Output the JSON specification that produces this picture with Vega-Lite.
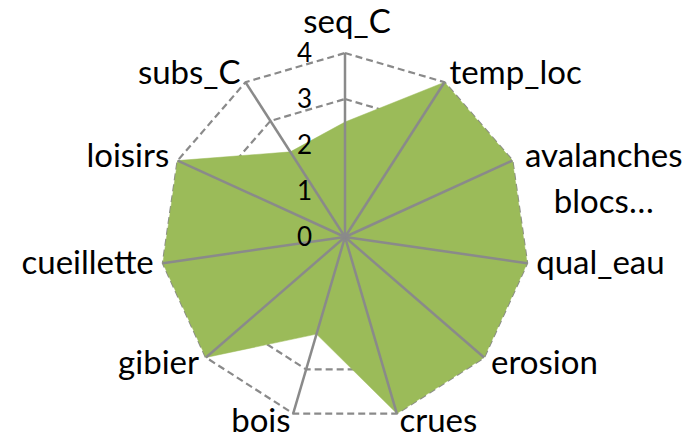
{
  "$schema": "https://vega.github.io/schema/vega-lite/v6.json",
  "width": 368,
  "height": 368,
  "autosize": "none",
  "padding": {"left": 161, "top": 53, "right": 162, "bottom": 19},
  "background": "white",
  "config": {"view": {"stroke": null}, "font": "Lato"},
  "datasets": {
    "axes": [
      {"axe": "seq_C", "idx": 0, "valeur": 2.5},
      {"axe": "temp_loc", "idx": 1, "valeur": 4},
      {"axe": "avalanches blocs…", "idx": 2, "valeur": 4},
      {"axe": "qual_eau", "idx": 3, "valeur": 4},
      {"axe": "erosion", "idx": 4, "valeur": 4},
      {"axe": "crues", "idx": 5, "valeur": 4},
      {"axe": "bois", "idx": 6, "valeur": 2.2},
      {"axe": "gibier", "idx": 7, "valeur": 4},
      {"axe": "cueillette", "idx": 8, "valeur": 4},
      {"axe": "loisirs", "idx": 9, "valeur": 4},
      {"axe": "subs_C", "idx": 10, "valeur": 2.2}
    ],
    "grille": [
      {"niveau": 1, "idx": 0}, {"niveau": 1, "idx": 1}, {"niveau": 1, "idx": 2}, {"niveau": 1, "idx": 3}, {"niveau": 1, "idx": 4}, {"niveau": 1, "idx": 5}, {"niveau": 1, "idx": 6}, {"niveau": 1, "idx": 7}, {"niveau": 1, "idx": 8}, {"niveau": 1, "idx": 9}, {"niveau": 1, "idx": 10},
      {"niveau": 2, "idx": 0}, {"niveau": 2, "idx": 1}, {"niveau": 2, "idx": 2}, {"niveau": 2, "idx": 3}, {"niveau": 2, "idx": 4}, {"niveau": 2, "idx": 5}, {"niveau": 2, "idx": 6}, {"niveau": 2, "idx": 7}, {"niveau": 2, "idx": 8}, {"niveau": 2, "idx": 9}, {"niveau": 2, "idx": 10},
      {"niveau": 3, "idx": 0}, {"niveau": 3, "idx": 1}, {"niveau": 3, "idx": 2}, {"niveau": 3, "idx": 3}, {"niveau": 3, "idx": 4}, {"niveau": 3, "idx": 5}, {"niveau": 3, "idx": 6}, {"niveau": 3, "idx": 7}, {"niveau": 3, "idx": 8}, {"niveau": 3, "idx": 9}, {"niveau": 3, "idx": 10},
      {"niveau": 4, "idx": 0}, {"niveau": 4, "idx": 1}, {"niveau": 4, "idx": 2}, {"niveau": 4, "idx": 3}, {"niveau": 4, "idx": 4}, {"niveau": 4, "idx": 5}, {"niveau": 4, "idx": 6}, {"niveau": 4, "idx": 7}, {"niveau": 4, "idx": 8}, {"niveau": 4, "idx": 9}, {"niveau": 4, "idx": 10}
    ],
    "graduations": [
      {"tick": 0}, {"tick": 1}, {"tick": 2}, {"tick": 3}, {"tick": 4}
    ]
  },
  "layer": [
    {
      "data": {"name": "grille"},
      "transform": [
        {"calculate": "datum.idx * 2 * PI / 11", "as": "ang"},
        {"calculate": "datum.niveau * sin(datum.ang)", "as": "px"},
        {"calculate": "datum.niveau * cos(datum.ang)", "as": "py"}
      ],
      "mark": {"type": "line", "interpolate": "linear-closed", "color": "#8a8a8a", "strokeWidth": 2.2, "strokeDash": [7, 4]},
      "encoding": {
        "x": {"field": "px", "type": "quantitative", "scale": {"domain": [-4, 4], "nice": false, "zero": false}, "axis": null},
        "y": {"field": "py", "type": "quantitative", "scale": {"domain": [-4, 4], "nice": false, "zero": false}, "axis": null},
        "detail": {"field": "niveau", "type": "nominal"},
        "order": {"field": "idx", "type": "quantitative"}
      }
    },
    {
      "data": {"name": "axes"},
      "transform": [
        {"calculate": "datum.idx * 2 * PI / 11", "as": "ang"},
        {"calculate": "datum.valeur * sin(datum.ang)", "as": "px"},
        {"calculate": "datum.valeur * cos(datum.ang)", "as": "py"}
      ],
      "mark": {"type": "line", "interpolate": "linear-closed", "fill": "#9BBB59", "color": "#9BBB59", "strokeWidth": 0.5},
      "encoding": {
        "x": {"field": "px", "type": "quantitative", "axis": null},
        "y": {"field": "py", "type": "quantitative", "axis": null},
        "order": {"field": "idx", "type": "quantitative"}
      }
    },
    {
      "data": {"name": "axes"},
      "transform": [
        {"calculate": "datum.idx * 2 * PI / 11", "as": "ang"},
        {"calculate": "4 * sin(datum.ang)", "as": "px"},
        {"calculate": "4 * cos(datum.ang)", "as": "py"},
        {"calculate": "0", "as": "zero"}
      ],
      "mark": {"type": "rule", "color": "#8a8a8a", "strokeWidth": 2.5},
      "encoding": {
        "x": {"field": "px", "type": "quantitative", "axis": null},
        "y": {"field": "py", "type": "quantitative", "axis": null},
        "x2": {"field": "zero"},
        "y2": {"field": "zero"}
      }
    },
    {
      "data": {"name": "graduations"},
      "transform": [{"calculate": "0", "as": "zero"}],
      "mark": {"type": "text", "align": "right", "baseline": "middle", "dx": -33, "dy": 1, "fontSize": 26, "color": "black"},
      "encoding": {
        "x": {"field": "zero", "type": "quantitative", "axis": null},
        "y": {"field": "tick", "type": "quantitative", "axis": null},
        "text": {"field": "tick", "type": "quantitative"}
      }
    },
    {
      "data": {"name": "axes"},
      "transform": [
        {"filter": "datum.idx == 0"},
        {"calculate": "datum.idx * 2 * PI / 11", "as": "ang"},
        {"calculate": "4.2 * sin(datum.ang)", "as": "lx"},
        {"calculate": "4.2 * cos(datum.ang)", "as": "ly"}
      ],
      "mark": {"type": "text", "align": "center", "baseline": "alphabetic", "dx": 2, "dy": -11, "fontSize": 33, "color": "black"},
      "encoding": {
        "x": {"field": "lx", "type": "quantitative", "axis": null},
        "y": {"field": "ly", "type": "quantitative", "axis": null},
        "text": {"field": "axe", "type": "nominal"}
      }
    },
    {
      "data": {"name": "axes"},
      "transform": [
        {"filter": "datum.idx == 1 || datum.idx == 3 || datum.idx == 4 || datum.idx == 5"},
        {"calculate": "datum.idx * 2 * PI / 11", "as": "ang"},
        {"calculate": "4.2 * sin(datum.ang)", "as": "lx"},
        {"calculate": "4.2 * cos(datum.ang)", "as": "ly"}
      ],
      "mark": {"type": "text", "align": "left", "baseline": "middle", "fontSize": 33, "color": "black"},
      "encoding": {
        "x": {"field": "lx", "type": "quantitative", "axis": null},
        "y": {"field": "ly", "type": "quantitative", "axis": null},
        "text": {"field": "axe", "type": "nominal"}
      }
    },
    {
      "data": {"name": "axes"},
      "transform": [
        {"filter": "datum.idx == 2"},
        {"calculate": "datum.idx * 2 * PI / 11", "as": "ang"},
        {"calculate": "4.2 * sin(datum.ang)", "as": "lx"},
        {"calculate": "4.2 * cos(datum.ang)", "as": "ly"}
      ],
      "mark": {"type": "text", "align": "center", "baseline": "middle", "lineBreak": " ", "lineHeight": 46, "dx": 83, "fontSize": 33, "color": "black"},
      "encoding": {
        "x": {"field": "lx", "type": "quantitative", "axis": null},
        "y": {"field": "ly", "type": "quantitative", "axis": null},
        "text": {"field": "axe", "type": "nominal"}
      }
    },
    {
      "data": {"name": "axes"},
      "transform": [
        {"filter": "datum.idx >= 6"},
        {"calculate": "datum.idx * 2 * PI / 11", "as": "ang"},
        {"calculate": "4.2 * sin(datum.ang)", "as": "lx"},
        {"calculate": "4.2 * cos(datum.ang)", "as": "ly"}
      ],
      "mark": {"type": "text", "align": "right", "baseline": "middle", "fontSize": 33, "color": "black"},
      "encoding": {
        "x": {"field": "lx", "type": "quantitative", "axis": null},
        "y": {"field": "ly", "type": "quantitative", "axis": null},
        "text": {"field": "axe", "type": "nominal"}
      }
    }
  ]
}
